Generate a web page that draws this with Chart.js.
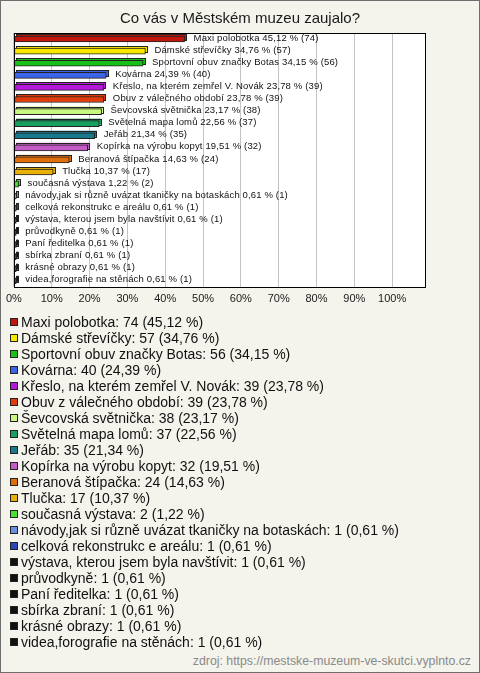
<!DOCTYPE html>
<html>
<head>
<meta charset="utf-8">
<script src="https://cdn.jsdelivr.net/npm/chart.js@4.4.1/dist/chart.umd.min.js"></script>
<style>
body{margin:0;width:480px;height:673px;background:#f4f3ec;font-family:"Liberation Sans",Arial,sans-serif;position:relative;overflow:hidden}
#frame{position:absolute;left:0;top:0;width:478px;height:671px;border:1px solid #6e6e6e}
#stats{position:absolute;left:0;top:0}
#title{position:absolute;left:0;width:480px;top:9px;text-align:center;font-size:15px;color:#1a1a1a}
#legend{position:absolute;left:10px;top:314px;font-size:14px;color:#111}
.item{height:16px;line-height:16px;white-space:nowrap}
.sw{display:inline-block;width:6px;height:6px;border:1px solid #222;margin-right:3px;position:relative;top:-1px}
#src{position:absolute;right:9px;top:654px;font-size:12.3px;color:#8a8a8a}
</style>
</head>
<body>
<div id="frame"></div>
<canvas id="stats" width="480" height="315"></canvas>
<div id="title"></div>
<div id="legend"></div>
<div id="src">zdroj: https://mestske-muzeum-ve-skutci.vyplnto.cz</div>
<script>
var TITLE = 'Co vás v Městském muzeu zaujalo?';
var CATEGORIES = [
  'Maxi polobotka', 'Dámské střevíčky', 'Sportovní obuv značky Botas', 'Kovárna',
  'Křeslo, na kterém zemřel V. Novák', 'Obuv z válečného období', 'Ševcovská světnička',
  'Světelná mapa lomů', 'Jeřáb', 'Kopírka na výrobu kopyt', 'Beranová štípačka', 'Tlučka',
  'současná výstava', 'návody,jak si různě uvázat tkaničky na botaskách',
  'celková rekonstrukc e areálu', 'výstava, kterou jsem byla navštívit', 'průvodkyně',
  'Paní ředitelka', 'sbírka zbraní', 'krásné obrazy', 'videa,forografie na stěnách'
];
var COUNTS = [74, 57, 56, 40, 39, 39, 38, 37, 35, 32, 24, 17, 2, 1, 1, 1, 1, 1, 1, 1, 1];
var PERCENTS = [45.12, 34.76, 34.15, 24.39, 23.78, 23.78, 23.17, 22.56, 21.34, 19.51, 14.63, 10.37,
  1.22, 0.61, 0.61, 0.61, 0.61, 0.61, 0.61, 0.61, 0.61];
var COLORS = ['#c0180c', '#f8e800', '#18c018', '#3c64e8', '#b418d8', '#e03c0c', '#c8f880',
  '#18a060', '#18788c', '#c45cc8', '#e0700c', '#e8b008', '#48e030', '#6890e0', '#2848b8',
  '#111111', '#111111', '#111111', '#111111', '#111111', '#111111'];
var X_TICKS = [0, 10, 20, 30, 40, 50, 60, 70, 80, 90, 100];

function fmt(v){ return v.toFixed(2).replace('.', ','); }

var DEPTH = 2;

var frame3d = {
  id: 'frame3d',
  beforeDraw: function(chart){
    var a = chart.chartArea, c = chart.ctx;
    c.save();
    c.fillStyle = '#ffffff';
    c.fillRect(a.left, a.top, a.right - a.left, a.bottom - a.top);
    c.restore();
  },
  beforeDatasetsDraw: function(chart){
    var c = chart.ctx;
    var bars = chart.getDatasetMeta(0).data;
    c.save();
    bars.forEach(function(b, i){
      var h = b.height;
      var x0 = b.base + DEPTH, x1 = b.x + DEPTH;
      var y0 = b.y - h / 2 - DEPTH;
      c.fillStyle = COLORS[i];
      c.strokeStyle = '#222';
      c.lineWidth = 1;
      c.fillRect(x0, y0, x1 - x0, h);
      c.strokeRect(Math.round(x0) + 0.5, Math.round(y0) + 0.5, Math.round(x1 - x0), Math.round(h));
    });
    c.restore();
  },
  afterDatasetsDraw: function(chart){
    var c = chart.ctx;
    var bars = chart.getDatasetMeta(0).data;
    c.save();
    c.font = '9.5px "Liberation Sans", Arial, sans-serif';
    c.letterSpacing = '0.15px';
    c.fillStyle = '#111';
    c.textBaseline = 'middle';
    bars.forEach(function(b, i){
      var txt = CATEGORIES[i] + ' ' + fmt(PERCENTS[i]) + ' % (' + COUNTS[i] + ')';
      c.fillText(txt, b.x + DEPTH + 7, b.y - 1);
    });
    c.letterSpacing = '0px';
    var a = chart.chartArea;
    c.strokeStyle = '#000';
    c.lineWidth = 1;
    c.strokeRect(Math.round(a.left) + 0.5, Math.round(a.top) + 0.5, Math.round(a.right - a.left), Math.round(a.bottom - a.top));
    c.restore();
  }
};

document.getElementById('title').textContent = TITLE;

new Chart(document.getElementById('stats').getContext('2d'), {
  type: 'bar',
  data: {
    labels: CATEGORIES,
    datasets: [{
      data: PERCENTS,
      backgroundColor: COLORS,
      borderColor: '#222',
      borderWidth: 1,
      borderSkipped: false,
      barThickness: 6
    }]
  },
  options: {
    indexAxis: 'y',
    responsive: false,
    animation: false,
    layout: { padding: { left: 10, right: 55, top: 33, bottom: 3 } },
    plugins: {
      legend: { display: false },
      tooltip: { enabled: false },
      title: { display: false }
    },
    scales: {
      x: {
        min: 0,
        max: 108.7,
        afterBuildTicks: function(s){ s.ticks = X_TICKS.map(function(v){ return { value: v }; }); },
        grid: { color: '#c4c4c4', drawTicks: false },
        border: { display: false },
        ticks: {
          color: '#1a1a1a',
          padding: 6,
          font: { size: 11, family: '"Liberation Sans", Arial, sans-serif' },
          callback: function(v){ return v + '%'; }
        }
      },
      y: { display: false }
    }
  },
  plugins: [frame3d]
});

var leg = document.getElementById('legend');
CATEGORIES.forEach(function(name, i){
  var row = document.createElement('div');
  row.className = 'item';
  var sw = document.createElement('span');
  sw.className = 'sw';
  sw.style.background = COLORS[i];
  row.appendChild(sw);
  row.appendChild(document.createTextNode(name + ': ' + COUNTS[i] + ' (' + fmt(PERCENTS[i]) + ' %)'));
  leg.appendChild(row);
});
</script>
</body>
</html>
